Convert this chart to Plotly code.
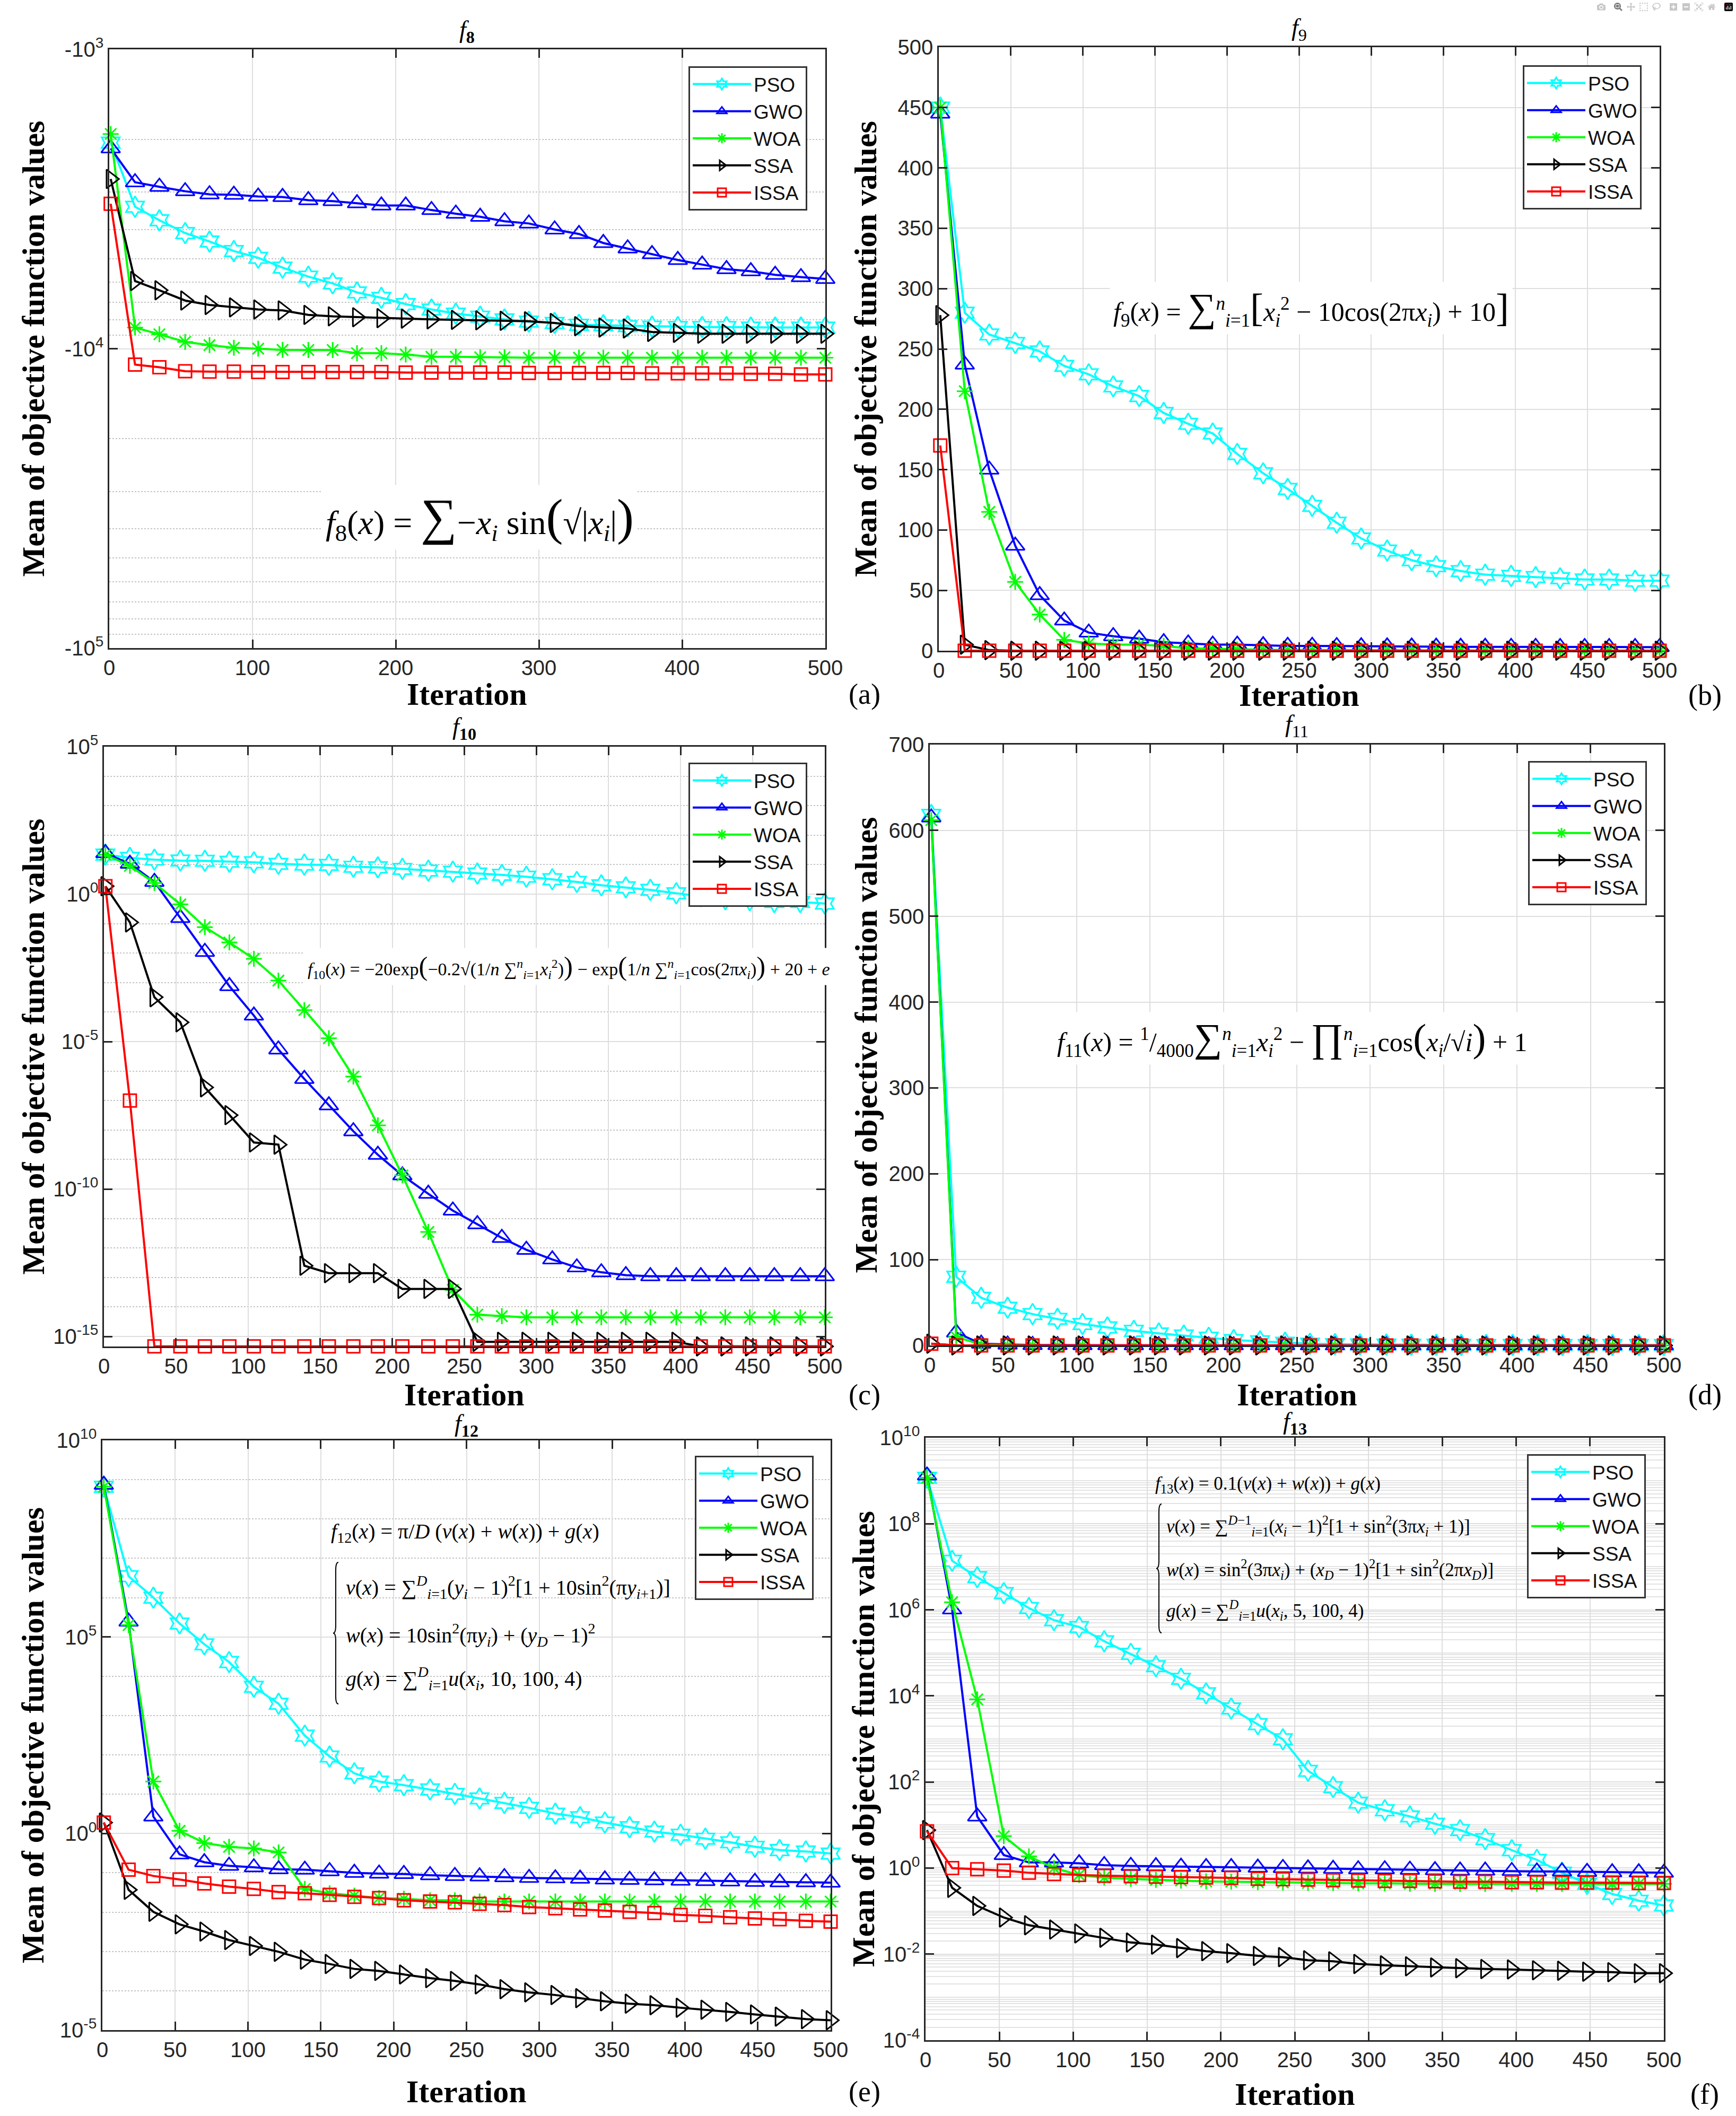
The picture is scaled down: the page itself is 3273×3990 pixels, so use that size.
import plotly.graph_objects as go

W, H = 3273, 3990

# iteration index of every plotted marker (same for all panels)
ITER = [1, 18, 35, 53, 70, 87, 104, 121, 139, 156, 173, 190, 207, 225, 242,
        259, 276, 293, 311, 328, 345, 362, 379, 397, 414, 431, 448, 465, 483, 500]
ALGOS = ["PSO", "GWO", "WOA", "SSA", "ISSA"]

# ---- f8 (values are negative) ----
F8_PSO = [-2050, -3357, -3724, -4110, -4386, -4718, -4969, -5360, -5745, -6050,
          -6486, -6761, -7096, -7397, -7634, -7816, -7983, -8121, -8205, -8323,
          -8352, -8410, -8439, -8468, -8468, -8468, -8497, -8497, -8497, -8497]
F8_GWO = [-2142, -2780, -2878, -2979, -3050, -3060, -3103, -3114, -3190, -3213,
          -3268, -3325, -3325, -3443, -3540, -3626, -3752, -3817, -3997, -4139,
          -4436, -4624, -4834, -5056, -5236, -5423, -5512, -5666, -5768, -5847]
F8_WOA = [-1918, -8497, -8952, -9490, -9730, -9930, -10000, -10090, -10100, -10100,
          -10350, -10350, -10460, -10640, -10640, -10680, -10680, -10720, -10720, -10720,
          -10720, -10720, -10720, -10720, -10720, -10720, -10720, -10720, -10720, -10720]
F8_SSA = [-2711, -5943, -6380, -6905, -7145, -7278, -7397, -7450, -7710, -7798,
          -7852, -7907, -7935, -7983, -8011, -8040, -8070, -8100, -8205, -8410,
          -8497, -8560, -8790, -8850, -8912, -8912, -8912, -8912, -8912, -8912]
F8_ISSA = [-3281, -11300, -11530, -11890, -11930, -11930, -11970, -11970, -11970, -11970,
           -11970, -11970, -12010, -12010, -12010, -12010, -12010, -12050, -12050, -12050,
           -12050, -12050, -12090, -12090, -12090, -12090, -12130, -12130, -12190, -12190]

# ---- f9 ----
F9_PSO = [450, 280, 262, 255, 248, 236, 229, 219, 211, 197, 188, 180, 163, 147, 134,
          120, 106, 93, 83, 75, 70, 66, 63, 62, 61, 60, 59, 59, 58, 58]
F9_GWO = [445, 237, 150, 87, 46, 25, 15, 12, 10, 7, 6, 5, 5, 4.5, 4,
          4, 3.8, 3.6, 3.5, 3.4, 3.3, 3.2, 3.2, 3.1, 3.1, 3.0, 3.0, 3.0, 3.0, 3.0]
F9_WOA = [450, 215, 115, 57, 30, 9, 6, 5, 5, 4, 2, 1.5, 1, 0.8, 0.6,
          0.5, 0.4, 0.3, 0.3, 0.2, 0.2, 0.1, 0.1, 0.1, 0.1, 0.1, 0, 0, 0, 0]
F9_SSA = [278, 5, 0.5, 0, 0, 0, 0, 0, 0, 0, 0, 0, 0, 0, 0,
          0, 0, 0, 0, 0, 0, 0, 0, 0, 0, 0, 0, 0, 0, 0]
F9_ISSA = [170, 0, 0, 0, 0, 0, 0, 0, 0, 0, 0, 0, 0, 0, 0,
           0, 0, 0, 0, 0, 0, 0, 0, 0, 0, 0, 0, 0, 0, 0]

# ---- f10 ----
F10_PSO = [21.9, 17.0, 14.8, 13.8, 13.5, 12.6, 12.0, 10.7, 10.0, 9.8, 8.5, 8.1, 7.2, 6.3, 5.8,
           5.0, 4.5, 3.9, 3.2, 2.6, 2.0, 1.7, 1.4, 1.07, 0.85, 0.68, 0.62, 0.54, 0.54, 0.48]
F10_GWO = [24.5, 10.7, 2.6, 0.155, 0.011, 7.6e-4, 7.6e-5, 5.4e-6, 5.4e-7, 6.9e-8,
           9.1e-9, 1.45e-9, 2.9e-10, 6.9e-11, 1.86e-11, 6.4e-12, 2.2e-12, 8.7e-13, 4.1e-13, 2.2e-13,
           1.5e-13, 1.2e-13, 1.1e-13, 1.1e-13, 1.1e-13, 1.1e-13, 1.1e-13, 1.1e-13, 1.1e-13, 1.1e-13]
F10_WOA = [21.9, 9.1, 2.4, 0.45, 0.076, 0.023, 6.4e-3, 1.17e-3, 1.17e-4, 1.3e-5,
           6.5e-7, 1.45e-8, 2.9e-10, 3.5e-12, 3.8e-14, 5.5e-15, 4.9e-15, 4.44e-15, 4.44e-15, 4.44e-15,
           4.44e-15, 4.44e-15, 4.44e-15, 4.44e-15, 4.44e-15, 4.44e-15, 4.44e-15, 4.44e-15, 4.44e-15, 4.44e-15]
F10_SSA = [1.86, 0.11, 3.2e-4, 4.5e-5, 2.8e-7, 3.2e-8, 3.8e-9, 3.2e-9, 2.5e-13, 1.4e-13,
           1.4e-13, 1.4e-13, 4.1e-14, 4.1e-14, 4.1e-14, 6.6e-16, 6.6e-16, 6.6e-16, 6.6e-16, 6.6e-16,
           6.6e-16, 6.6e-16, 6.6e-16, 6.6e-16, 4.6e-16, 4.6e-16, 4.6e-16, 4.6e-16, 4.6e-16, 4.6e-16]
F10_ISSA = [1.86, 1.0e-7, 4.6e-16, 4.6e-16, 4.6e-16, 4.6e-16, 4.6e-16, 4.6e-16, 4.6e-16, 4.6e-16,
            4.6e-16, 4.6e-16, 4.6e-16, 4.6e-16, 4.6e-16, 4.6e-16, 4.6e-16, 4.6e-16, 4.6e-16, 4.6e-16,
            4.6e-16, 4.6e-16, 4.6e-16, 4.6e-16, 4.6e-16, 4.6e-16, 4.6e-16, 4.6e-16, 4.6e-16, 4.6e-16]

# ---- f11 ----
F11_PSO = [618, 80, 55.5, 44, 36.5, 31, 25, 21, 17, 14, 11.6, 9, 6.3, 4.8, 3.2,
           2, 1.5, 1.2, 1.0, 0.9, 0.8, 0.7, 0.6, 0.6, 0.5, 0.5, 0.5, 0.5, 0.5, 0.5]
F11_GWO = [615, 15, 2.0, 1.0, 0.5, 0.4, 0.3, 0.3, 0.2, 0.2, 0.2, 0.1, 0.1, 0.1, 0.1,
           0.1, 0.1, 0.1, 0.1, 0.1, 0.1, 0.1, 0.1, 0.1, 0.1, 0.1, 0.1, 0.1, 0.1, 0.1]
F11_WOA = [612, 10, 1.0, 0.3, 0.1, 0.05, 0, 0, 0, 0, 0, 0, 0, 0, 0,
           0, 0, 0, 0, 0, 0, 0, 0, 0, 0, 0, 0, 0, 0, 0]
F11_SSA = [2, 0, 0, 0, 0, 0, 0, 0, 0, 0, 0, 0, 0, 0, 0,
           0, 0, 0, 0, 0, 0, 0, 0, 0, 0, 0, 0, 0, 0, 0]
F11_ISSA = [2, 0, 0, 0, 0, 0, 0, 0, 0, 0, 0, 0, 0, 0, 0,
            0, 0, 0, 0, 0, 0, 0, 0, 0, 0, 0, 0, 0, 0, 0]

# ---- f12 ----
F12_PSO = [6.6e8, 3.5e6, 1.0e6, 2.2e5, 6.5e4, 2.3e4, 5.4e3, 2.0e3, 309, 91,
           34, 21, 17, 13.2, 10.2, 7.8, 6.0, 4.5, 3.2, 2.6,
           1.9, 1.45, 1.12, 0.93, 0.74, 0.60, 0.46, 0.38, 0.35, 0.31]
F12_GWO = [7.4e8, 2.45e5, 2.7, 0.295, 0.186, 0.151, 0.138, 0.123, 0.120, 0.110,
           0.100, 0.0955, 0.0933, 0.0871, 0.0832, 0.0813, 0.0776, 0.0741, 0.0724, 0.0708,
           0.0676, 0.0661, 0.0646, 0.0631, 0.0617, 0.0603, 0.0589, 0.0575, 0.0575, 0.0562]
F12_WOA = [6.6e8, 2.0e5, 21, 1.17, 0.575, 0.457, 0.417, 0.331, 0.0389, 0.0302,
           0.0263, 0.0229, 0.0219, 0.0200, 0.0200, 0.0186, 0.0186, 0.0186, 0.0186, 0.0186,
           0.0186, 0.0186, 0.0186, 0.0186, 0.0186, 0.0186, 0.0186, 0.0186, 0.0186, 0.0186]
F12_SSA = [1.9, 0.037, 0.0102, 4.9e-3, 3.2e-3, 1.95e-3, 1.38e-3, 9.8e-4, 6.2e-4, 4.8e-4,
           3.6e-4, 3.2e-4, 2.6e-4, 2.1e-4, 1.78e-4, 1.45e-4, 1.10e-4, 9.1e-5, 7.8e-5, 6.5e-5,
           5.4e-5, 4.7e-5, 4.3e-5, 3.7e-5, 3.3e-5, 2.9e-5, 2.5e-5, 2.2e-5, 1.9e-5, 1.78e-5]
F12_ISSA = [1.9, 0.120, 0.0832, 0.0676, 0.0537, 0.0447, 0.0389, 0.0324, 0.0302, 0.0275,
            0.0245, 0.0229, 0.0200, 0.0186, 0.0178, 0.0162, 0.0151, 0.0135, 0.0126, 0.0117,
            0.0110, 0.0102, 9.5e-3, 8.5e-3, 8.1e-3, 7.4e-3, 6.9e-3, 6.6e-3, 6.0e-3, 5.75e-3]

# ---- f13 ----
F13_PSO = [1.17e9, 1.38e7, 5.75e6, 2.45e6, 1.10e6, 5.75e5, 4.0e5, 1.86e5, 9.5e4, 4.9e4,
           2.5e4, 1.15e4, 5.1e3, 2.2e3, 980, 182, 76, 33, 22, 15.8,
           10.7, 7.6, 4.7, 2.6, 1.55, 0.78, 0.43, 0.25, 0.174, 0.135]
F13_GWO = [1.32e9, 1.02e6, 15.8, 2.0, 1.35, 1.35, 1.29, 1.17, 1.12, 1.10,
           1.07, 1.05, 1.05, 1.02, 1.0, 0.977, 0.955, 0.933, 0.933, 0.912,
           0.891, 0.871, 0.871, 0.851, 0.832, 0.832, 0.813, 0.794, 0.794, 0.776]
F13_WOA = [1.17e9, 1.5e6, 8.3e3, 5.5, 1.86, 1.0, 0.69, 0.60, 0.56, 0.53,
           0.51, 0.49, 0.48, 0.47, 0.46, 0.45, 0.45, 0.44, 0.44, 0.43,
           0.43, 0.43, 0.43, 0.43, 0.43, 0.43, 0.43, 0.43, 0.43, 0.43]
F13_SSA = [7.6, 0.347, 0.132, 0.0708, 0.0468, 0.0372, 0.0302, 0.0240, 0.0186, 0.0166,
           0.0138, 0.0117, 0.0105, 9.1e-3, 8.5e-3, 7.2e-3, 6.8e-3, 5.9e-3, 5.5e-3, 5.2e-3,
           4.9e-3, 4.7e-3, 4.5e-3, 4.4e-3, 4.2e-3, 4.1e-3, 3.9e-3, 3.8e-3, 3.6e-3, 3.6e-3]
F13_ISSA = [7.1, 1.0, 0.933, 0.871, 0.776, 0.724, 0.692, 0.661, 0.646, 0.631,
            0.617, 0.603, 0.589, 0.562, 0.550, 0.537, 0.525, 0.513, 0.50, 0.50,
            0.49, 0.48, 0.48, 0.468, 0.468, 0.457, 0.457, 0.457, 0.447, 0.447]

XTICKS_100 = [0, 100, 200, 300, 400, 500]
XTICKS_50 = [0, 50, 100, 150, 200, 250, 300, 350, 400, 450, 500]

STYLE = {
    "PSO": dict(color="#00FFFF", symbol="hexagram-open", size=30),
    "GWO": dict(color="#0000FF", symbol="triangle-up-open", size=31),
    "WOA": dict(color="#00FF00", symbol="asterisk-open", size=25),
    "SSA": dict(color="#000000", symbol="triangle-right-open", size=31),
    "ISSA": dict(color="#FF0000", symbol="square-open", size=24),
}

TICK_FONT = dict(family="Liberation Sans, Arial", size=40, color="#262626")
SERIF = "Liberation Serif, Times New Roman"
GRID = "#dedede"
MINOR = "#c4c4c4"


def px(x):
    return x / W


def py(y):
    return 1 - y / H


def sup_labels(exps, neg=False):
    sign = "-10" if neg else "10"
    return [f"{sign}<sup>{'-' if e < 0 else ''}{abs(e)}</sup>" for e in exps]


PANELS = [
    dict(tag="a", data=[F8_PSO, F8_GWO, F8_WOA, F8_SSA, F8_ISSA], negate=True,
         xdom=(206, 1556), ydom=(93, 1222), legend=(1522, 125),
         title="<i>f</i><sub><b>8</b></sub>", title_y=59, label_y=1309, ytitle_x=62,
         xticks=XTICKS_100,
         yaxis=dict(type="log", range=[5, 3], tickvals=[1e3, 1e4, 1e5],
                    ticktext=sup_labels([3, 4, 5], neg=True),
                    minor=dict(dtick="D1", showgrid=True, gridcolor=MINOR,
                               griddash="dot", gridwidth=2, ticks=""))),
    dict(tag="b", data=[F9_PSO, F9_GWO, F9_WOA, F9_SSA, F9_ISSA], negate=False,
         xdom=(1770, 3129), ydom=(89, 1227), legend=(3095, 123),
         title="<i>f</i><sub>9</sub>", title_y=55, label_y=1311, ytitle_x=1632,
         xticks=XTICKS_50,
         yaxis=dict(type="linear", range=[0, 500], tickvals=list(range(0, 501, 50)))),
    dict(tag="c", data=[F10_PSO, F10_GWO, F10_WOA, F10_SSA, F10_ISSA], negate=False,
         xdom=(196, 1555), ydom=(1408, 2539), legend=(1522, 1438),
         title="<i>f</i><sub><b>10</b></sub>", title_y=1373, label_y=2630, ytitle_x=62,
         xticks=XTICKS_50,
         yaxis=dict(type="log", range=[-15.34, 5],
                    tickvals=[1e-15, 1e-10, 1e-5, 1, 1e5],
                    ticktext=sup_labels([-15, -10, -5, 0, 5]),
                    minor=dict(tickmode="linear", tick0=0, dtick=1, showgrid=True,
                               gridcolor=MINOR, griddash="dot", gridwidth=2, ticks=""))),
    dict(tag="d", data=[F11_PSO, F11_GWO, F11_WOA, F11_SSA, F11_ISSA], negate=False,
         xdom=(1753, 3137), ydom=(1404, 2537), legend=(3105, 1435),
         title="<i>f</i><sub>11</sub>", title_y=1368, label_y=2630, ytitle_x=1632,
         xticks=XTICKS_50,
         yaxis=dict(type="linear", range=[0, 700], tickvals=list(range(0, 701, 100)))),
    dict(tag="e", data=[F12_PSO, F12_GWO, F12_WOA, F12_SSA, F12_ISSA], negate=False,
         xdom=(193, 1566), ydom=(2716, 3828), legend=(1534, 2745),
         title="<i>f</i><sub><b>12</b></sub>", title_y=2687, label_y=3944, ytitle_x=62,
         xticks=XTICKS_50,
         yaxis=dict(type="log", range=[-5, 10], tickvals=[1e-5, 1, 1e5, 1e10],
                    ticktext=sup_labels([-5, 0, 5, 10]),
                    minor=dict(tickmode="linear", tick0=0, dtick=1, showgrid=True,
                               gridcolor=MINOR, griddash="dot", gridwidth=2, ticks=""))),
    dict(tag="f", data=[F13_PSO, F13_GWO, F13_WOA, F13_SSA, F13_ISSA], negate=False,
         xdom=(1745, 3137), ydom=(2711, 3847), legend=(3103, 2742),
         title="<i>f</i><sub><b>13</b></sub>", title_y=2683, label_y=3949, ytitle_x=1628,
         xticks=XTICKS_50,
         yaxis=dict(type="log", range=[-4, 10],
                    tickvals=[1e-4, 1e-2, 1, 1e2, 1e4, 1e6, 1e8, 1e10],
                    ticktext=sup_labels([-4, -2, 0, 2, 4, 6, 8, 10]),
                    minor=dict(dtick="D1", showgrid=True, gridcolor="#e3e3e3",
                               gridwidth=2, ticks=""))),
]

fig = go.Figure()
annotations = []
shapes = []
layout = {}


def note(text, x, y, size, family=SERIF, xanchor="center", angle=0, bg=None, align="center"):
    return dict(text=text, x=px(x), y=py(y), xref="paper", yref="paper", showarrow=False,
                xanchor=xanchor, yanchor="middle", textangle=angle, align=align,
                bgcolor=bg, borderpad=6, font=dict(family=family, size=size, color="black"))


for i, p in enumerate(PANELS, start=1):
    sfx = "" if i == 1 else str(i)
    leg = "legend" if i == 1 else f"legend{i}"
    for name, vals in zip(ALGOS, p["data"]):
        st = STYLE[name]
        yv = [-v for v in vals] if p["negate"] else vals
        fig.add_trace(go.Scatter(
            x=ITER, y=yv, name=name, mode="lines+markers",
            xaxis=f"x{sfx}", yaxis=f"y{sfx}", legend=leg, cliponaxis=False,
            line=dict(color=st["color"], width=4),
            marker=dict(symbol=st["symbol"], size=st["size"], color=st["color"],
                        line=dict(color=st["color"], width=3)),
        ))

    x0, x1 = p["xdom"]
    y0, y1 = p["ydom"]
    axis_common = dict(showline=True, linecolor="#262626", linewidth=2.5, mirror="ticks",
                       ticks="inside", ticklen=16, tickwidth=2.5, tickcolor="#262626",
                       tickfont=TICK_FONT, showgrid=True, gridcolor=GRID, gridwidth=2,
                       zeroline=False, ticklabelstandoff=0, automargin=False)
    layout[f"xaxis{sfx}"] = dict(axis_common, domain=[px(x0), px(x1)], anchor=f"y{sfx}",
                                 range=[0, 500], tickvals=p["xticks"],
                                 ticktext=[str(t) for t in p["xticks"]])
    layout[f"yaxis{sfx}"] = dict(axis_common, domain=[py(y1), py(y0)], anchor=f"x{sfx}",
                                 **p["yaxis"])

    lx, ly = p["legend"]
    layout[leg] = dict(x=px(lx), y=py(ly), xanchor="right", yanchor="top",
                       bgcolor="white", bordercolor="#333333", borderwidth=3,
                       font=dict(family="Liberation Sans, Arial", size=37, color="#111"),
                       itemwidth=110, tracegroupgap=0)

    xc = (x0 + x1) / 2
    annotations += [
        note(p["title"], xc, p["title_y"], 46),
        note("<b>Iteration</b>", xc, p["label_y"], 60),
        note("<b>Mean of objective function values</b>", p["ytitle_x"], (y0 + y1) / 2, 60,
             angle=-90),
        note(f"({p['tag']})", 1630 if x0 < 1000 else 3214, p["label_y"], 54),
    ]

BIG = '<span style="font-size:1.5em">'

annotations += [
    note("<i>f</i><sub>8</sub>(<i>x</i>) = " + BIG + "\u2211</span>\u2212<i>x</i><sub><i>i</i></sub> sin"
         + BIG + "(</span>\u221a|<i>x</i><sub><i>i</i></sub>|" + BIG + ")</span>", 905, 975, 64, bg="white"),
    note("<i>f</i><sub>9</sub>(<i>x</i>) = " + BIG + "\u2211</span><sup><i>n</i></sup><sub><i>i</i>=1</sub>"
         + BIG + "[</span><i>x</i><sub><i>i</i></sub><sup>2</sup> \u2212 10cos(2\u03c0<i>x</i><sub><i>i</i></sub>) + 10"
         + BIG + "]</span>", 2472, 581, 50, bg="white"),
    note("<i>f</i><sub>10</sub>(<i>x</i>) = \u221220exp" + BIG + "(</span>\u22120.2\u221a(1/<i>n</i> "
         + "\u2211<sup><i>n</i></sup><sub><i>i</i>=1</sub><i>x</i><sub><i>i</i></sub><sup>2</sup>)"
         + BIG + ")</span> \u2212 exp" + BIG + "(</span>1/<i>n</i> \u2211<sup><i>n</i></sup><sub><i>i</i>=1</sub>"
         + "cos(2\u03c0<i>x</i><sub><i>i</i></sub>)" + BIG + ")</span> + 20 + <i>e</i>", 1072, 1822, 34,
         bg="white"),
    note("<i>f</i><sub>11</sub>(<i>x</i>) = <sup>1</sup>/<sub>4000</sub>" + BIG + "\u2211</span>"
         + "<sup><i>n</i></sup><sub><i>i</i>=1</sub><i>x</i><sub><i>i</i></sub><sup>2</sup> \u2212 "
         + BIG + "\u220f</span><sup><i>n</i></sup><sub><i>i</i>=1</sub>cos" + BIG + "(</span>"
         + "<i>x</i><sub><i>i</i></sub>/\u221a<i>i</i>" + BIG + ")</span> + 1", 2436, 1958, 50, bg="white"),
]

# multi-line formulas of f12 and f13 on a white card
F12_LINES = [
    "<i>f</i><sub>12</sub>(<i>x</i>) = \u03c0/<i>D</i> (<i>v</i>(<i>x</i>) + <i>w</i>(<i>x</i>)) + <i>g</i>(<i>x</i>)",
    "<i>v</i>(<i>x</i>) = \u2211<sup><i>D</i></sup><sub><i>i</i>=1</sub>(<i>y</i><sub><i>i</i></sub> \u2212 1)<sup>2</sup>"
    "[1 + 10sin<sup>2</sup>(\u03c0<i>y</i><sub><i>i</i>+1</sub>)]",
    "<i>w</i>(<i>x</i>) = 10sin<sup>2</sup>(\u03c0<i>y</i><sub><i>i</i></sub>) + (<i>y</i><sub><i>D</i></sub> \u2212 1)<sup>2</sup>",
    "<i>g</i>(<i>x</i>) = \u2211<sup><i>D</i></sup><sub><i>i</i>=1</sub><i>u</i>(<i>x</i><sub><i>i</i></sub>, 10, 100, 4)",
]
F13_LINES = [
    "<i>f</i><sub>13</sub>(<i>x</i>) = 0.1(<i>v</i>(<i>x</i>) + <i>w</i>(<i>x</i>)) + <i>g</i>(<i>x</i>)",
    "<i>v</i>(<i>x</i>) = \u2211<sup><i>D</i>\u22121</sup><sub><i>i</i>=1</sub>(<i>x</i><sub><i>i</i></sub> \u2212 1)<sup>2</sup>"
    "[1 + sin<sup>2</sup>(3\u03c0<i>x</i><sub><i>i</i></sub> + 1)]",
    "<i>w</i>(<i>x</i>) = sin<sup>2</sup>(3\u03c0<i>x</i><sub><i>i</i></sub>) + (<i>x</i><sub><i>D</i></sub> \u2212 1)<sup>2</sup>"
    "[1 + sin<sup>2</sup>(2\u03c0<i>x</i><sub><i>D</i></sub>)]",
    "<i>g</i>(<i>x</i>) = \u2211<sup><i>D</i></sup><sub><i>i</i>=1</sub><i>u</i>(<i>x</i><sub><i>i</i></sub>, 5, 100, 4)",
]

for lines, xl, xb, ys, size, card, brace in [
    (F12_LINES, 617, 645, [2890, 2993, 3083, 3165], 40, (612, 2852, 1210, 3220), (628, 2946, 3213)),
    (F13_LINES, 2171, 2192, [2799, 2877, 2959, 3036], 35, (2164, 2773, 2807, 3092), (2180, 2836, 3079)),
]:
    cx0, cy0, cx1, cy1 = card
    shapes.append(dict(type="rect", xref="paper", yref="paper", layer="between",
                       x0=px(cx0), x1=px(cx1), y0=py(cy1), y1=py(cy0),
                       fillcolor="white", line=dict(width=0)))
    for j, (txt, yy) in enumerate(zip(lines, ys)):
        annotations.append(note(txt, xl if j == 0 else xb, yy, size, xanchor="left", align="left"))
    bx, bt, bb = brace
    bm = (bt + bb) / 2
    w = 10
    d = 14
    path = (f"M{px(bx + w)},{py(bt)} Q{px(bx + w / 2)},{py(bt)} {px(bx + w / 2)},{py(bt + d)} "
            f"L{px(bx + w / 2)},{py(bm - d)} Q{px(bx + w / 2)},{py(bm)} {px(bx)},{py(bm)} "
            f"Q{px(bx + w / 2)},{py(bm)} {px(bx + w / 2)},{py(bm + d)} "
            f"L{px(bx + w / 2)},{py(bb - d)} Q{px(bx + w / 2)},{py(bb)} {px(bx + w)},{py(bb)}")
    shapes.append(dict(type="path", xref="paper", yref="paper", path=path,
                       line=dict(color="black", width=2)))

fig.update_layout(
    width=W, height=H, margin=dict(l=0, r=0, t=0, b=0, pad=0, autoexpand=False),
    paper_bgcolor="white", plot_bgcolor="white",
    annotations=annotations, shapes=shapes, **layout,
)

fig.write_html("out.html", post_script="document.body.style.margin='0';")
